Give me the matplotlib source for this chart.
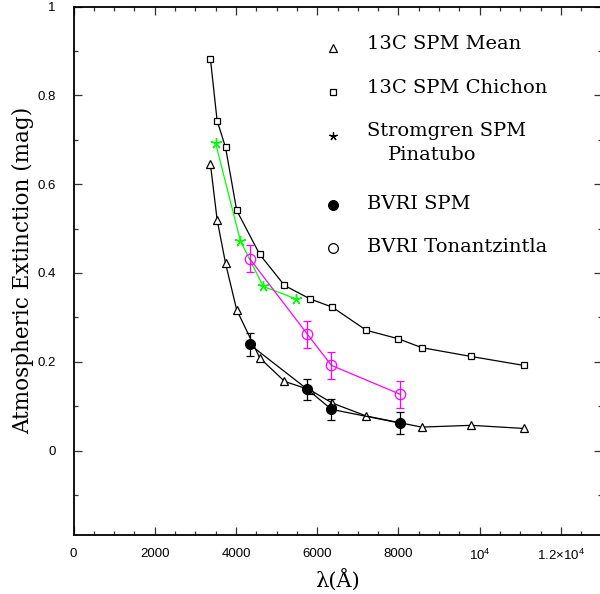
import matplotlib
matplotlib.use("Agg")
import matplotlib.pyplot as plt
from matplotlib.ticker import MultipleLocator, FixedLocator, FixedFormatter

plt.rcParams['mathtext.fontset'] = 'custom'
plt.rcParams['mathtext.rm'] = 'Liberation Sans'
plt.rcParams['mathtext.it'] = 'Liberation Sans'

# 13C SPM Mean
mean_wl = [3371, 3536, 3743, 4018, 4584, 5195, 5815, 6374, 7209, 8570, 9792, 11080]
mean_ext = [0.645, 0.520, 0.422, 0.317, 0.209, 0.156, 0.137, 0.107, 0.078, 0.053, 0.057, 0.050]

# 13C SPM Chichon
chich_wl = [3371, 3536, 3743, 4018, 4584, 5195, 5815, 6374, 7209, 7995, 8570, 9792, 11080]
chich_ext = [0.882, 0.743, 0.683, 0.541, 0.442, 0.372, 0.342, 0.323, 0.271, 0.252, 0.232, 0.212, 0.192]

# Stromgren SPM Pinatubo
strom_wl = [3500, 4110, 4670, 5470]
strom_ext = [0.692, 0.472, 0.370, 0.342]

# BVRI SPM
bvri_wl = [4340, 5760, 6350, 8040]
bvri_ext = [0.239, 0.138, 0.093, 0.062]
bvri_err = [0.025, 0.024, 0.024, 0.025]

# BVRI Tonantzintla
ton_wl = [4340, 5760, 6350, 8040]
ton_ext = [0.432, 0.262, 0.192, 0.127]
ton_err = [0.030, 0.030, 0.030, 0.030]

xticks = [0, 2000, 4000, 6000, 8000, 10000, 12000]
xticklabels = ['0', '2000', '4000', '6000', '8000', r'$\mathregular{10^4}$', r'$\mathregular{1.2{\times}10^4}$']
yticks = [0, 0.2, 0.4, 0.6, 0.8, 1.0]
yticklabels = ['0', '0.2', '0.4', '0.6', '0.8', '1']

fig = plt.figure(figsize=(6.0, 5.94), dpi=100)
ax = fig.add_axes([0.1225, 0.0993, 0.880, 0.8897])

lw = 0.9
ax.plot(mean_wl, mean_ext, color='black', lw=lw, marker='^', ms=6.3,
        mfc='white', mec='black', mew=0.9, zorder=3)
ax.plot(chich_wl, chich_ext, color='black', lw=lw, marker='s', ms=5,
        mfc='white', mec='black', mew=0.9, zorder=3)
ax.plot(strom_wl, strom_ext, color='#00ff00', lw=lw, marker=(5, 2, 0), ms=8,
        mec='#00ff00', mew=1.0, zorder=4)
ax.errorbar(ton_wl, ton_ext, yerr=ton_err, color='#ff00ff', lw=lw, marker='o', ms=7.5,
            mfc='none', mec='#ff00ff', mew=0.9, capsize=3.2, elinewidth=0.9, capthick=0.9, zorder=4)
ax.errorbar(bvri_wl, bvri_ext, yerr=bvri_err, color='black', lw=lw, marker='o', ms=7,
            mfc='black', mec='black', capsize=3.2, elinewidth=0.9, capthick=0.9, zorder=5)

ax.set_xlim(0, 13000)
ax.set_ylim(-0.19, 1.0)

ax.xaxis.set_major_locator(FixedLocator(xticks))
ax.xaxis.set_major_formatter(FixedFormatter(xticklabels))
ax.xaxis.set_minor_locator(MultipleLocator(500))
ax.yaxis.set_major_locator(FixedLocator(yticks))
ax.yaxis.set_major_formatter(FixedFormatter(yticklabels))
ax.yaxis.set_minor_locator(MultipleLocator(0.1))

ax.tick_params(which='both', direction='in', top=True, right=True, width=0.9, color='#333333')
ax.tick_params(which='major', length=6)
ax.tick_params(which='minor', length=3)
for lab in ax.get_xticklabels() + ax.get_yticklabels():
    lab.set_fontfamily('Liberation Sans')
    lab.set_fontsize(9.5)
ax.tick_params(axis='x', pad=9)
ax.tick_params(axis='y', pad=13)
for s in ax.spines.values():
    s.set_linewidth(1.3)

ax.set_xlabel('λ(Å)', fontfamily='DejaVu Serif', fontsize=15, labelpad=4)
ax.set_ylabel('Atmospheric Extinction (mag)', fontfamily='DejaVu Serif', fontsize=15.5, labelpad=2)

# legend (manual)
mx = 0.4914
tx = 0.5558
fs = 14
leg = [
    ('^', 'white', 6.3, 0.9214, '13C SPM Mean', 0.929),
    ('s', 'white', 5, 0.8381, '13C SPM Chichon', 0.8457),
    ((5, 2, 0), 'black', 6, 0.7555, 'Stromgren SPM', 0.764),
    ('o', 'black', 7, 0.6240, 'BVRI SPM', 0.6259),
    ('o', 'white', 7, 0.5424, 'BVRI Tonantzintla', 0.5443),
]
for m, fc, ms, my, txt, ty in leg:
    ax.plot([mx], [my], transform=ax.transAxes, marker=m, ms=ms, mfc=fc, mec='black',
            mew=0.9, ls='none', clip_on=False)
    ax.text(tx, ty, txt, transform=ax.transAxes, fontfamily='DejaVu Serif', fontsize=fs,
            va='center', ha='left')
ax.text(0.5955, 0.7187, 'Pinatubo', transform=ax.transAxes, fontfamily='DejaVu Serif',
        fontsize=fs, va='center', ha='left')

fig.savefig('out.png', dpi=100)
